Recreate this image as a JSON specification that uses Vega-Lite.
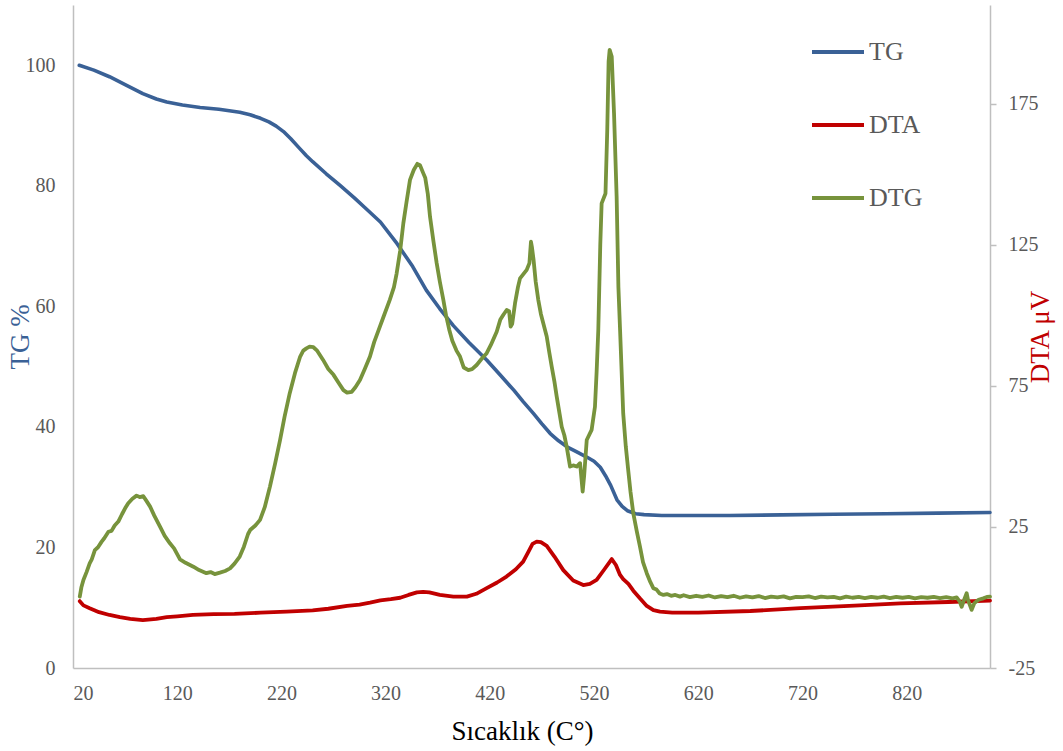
{
  "$schema": "https://vega.github.io/schema/vega-lite/v6.json",
  "width": 917,
  "height": 663,
  "autosize": {"type": "none"},
  "padding": {"left": 73, "top": 5, "right": 73, "bottom": 83},
  "background": "white",
  "config": {
    "view": {"stroke": null},
    "font": "Liberation Serif",
    "axis": {
      "grid": false,
      "domainColor": "#BFBFBF",
      "domainWidth": 1.5,
      "tickColor": "#BFBFBF",
      "tickWidth": 1.5,
      "labelFont": "Liberation Serif",
      "labelFontSize": 20,
      "labelColor": "#595959",
      "titleFont": "Liberation Serif",
      "titleFontWeight": "normal"
    }
  },
  "datasets": {
    "all": [
      {"T": 26, "series": "TG", "value": 100.0},
      {"T": 40, "series": "TG", "value": 99.2},
      {"T": 55, "series": "TG", "value": 98.1},
      {"T": 70, "series": "TG", "value": 96.8},
      {"T": 87, "series": "TG", "value": 95.3},
      {"T": 100, "series": "TG", "value": 94.4},
      {"T": 110, "series": "TG", "value": 93.9},
      {"T": 125, "series": "TG", "value": 93.4},
      {"T": 142, "series": "TG", "value": 93.0},
      {"T": 160, "series": "TG", "value": 92.7},
      {"T": 180, "series": "TG", "value": 92.2},
      {"T": 190, "series": "TG", "value": 91.8},
      {"T": 200, "series": "TG", "value": 91.2},
      {"T": 208, "series": "TG", "value": 90.6},
      {"T": 215, "series": "TG", "value": 89.9},
      {"T": 222, "series": "TG", "value": 89.0},
      {"T": 229, "series": "TG", "value": 87.8},
      {"T": 237, "series": "TG", "value": 86.3},
      {"T": 244, "series": "TG", "value": 85.0},
      {"T": 250, "series": "TG", "value": 84.0},
      {"T": 263, "series": "TG", "value": 82.0},
      {"T": 276, "series": "TG", "value": 80.1},
      {"T": 290, "series": "TG", "value": 78.0},
      {"T": 300, "series": "TG", "value": 76.4},
      {"T": 315, "series": "TG", "value": 74.0},
      {"T": 331, "series": "TG", "value": 70.4},
      {"T": 346, "series": "TG", "value": 66.6},
      {"T": 359, "series": "TG", "value": 62.7},
      {"T": 372, "series": "TG", "value": 59.6},
      {"T": 385, "series": "TG", "value": 56.8},
      {"T": 400, "series": "TG", "value": 54.0},
      {"T": 417, "series": "TG", "value": 51.1},
      {"T": 430, "series": "TG", "value": 48.6},
      {"T": 443, "series": "TG", "value": 46.1},
      {"T": 452, "series": "TG", "value": 44.2},
      {"T": 462, "series": "TG", "value": 42.2},
      {"T": 470, "series": "TG", "value": 40.5},
      {"T": 478, "series": "TG", "value": 38.9},
      {"T": 486, "series": "TG", "value": 37.7},
      {"T": 494, "series": "TG", "value": 36.7},
      {"T": 503, "series": "TG", "value": 35.9},
      {"T": 513, "series": "TG", "value": 35.0},
      {"T": 520, "series": "TG", "value": 34.3},
      {"T": 526, "series": "TG", "value": 33.3},
      {"T": 531, "series": "TG", "value": 31.9},
      {"T": 536, "series": "TG", "value": 30.3},
      {"T": 542, "series": "TG", "value": 27.9},
      {"T": 547, "series": "TG", "value": 26.8},
      {"T": 552, "series": "TG", "value": 26.1},
      {"T": 560, "series": "TG", "value": 25.6},
      {"T": 568, "series": "TG", "value": 25.45},
      {"T": 585, "series": "TG", "value": 25.3},
      {"T": 600, "series": "TG", "value": 25.3},
      {"T": 650, "series": "TG", "value": 25.3},
      {"T": 700, "series": "TG", "value": 25.4},
      {"T": 750, "series": "TG", "value": 25.5},
      {"T": 800, "series": "TG", "value": 25.6},
      {"T": 850, "series": "TG", "value": 25.7},
      {"T": 900, "series": "TG", "value": 25.8},

      {"T": 26.5, "series": "DTA", "value": -1.3},
      {"T": 30, "series": "DTA", "value": -2.8},
      {"T": 36, "series": "DTA", "value": -3.8},
      {"T": 45, "series": "DTA", "value": -5.2},
      {"T": 55, "series": "DTA", "value": -6.2},
      {"T": 65, "series": "DTA", "value": -7.0},
      {"T": 75, "series": "DTA", "value": -7.6},
      {"T": 87, "series": "DTA", "value": -8.0},
      {"T": 100, "series": "DTA", "value": -7.6},
      {"T": 110, "series": "DTA", "value": -7.0},
      {"T": 120, "series": "DTA", "value": -6.7},
      {"T": 135, "series": "DTA", "value": -6.2},
      {"T": 155, "series": "DTA", "value": -5.9},
      {"T": 175, "series": "DTA", "value": -5.8},
      {"T": 200, "series": "DTA", "value": -5.4},
      {"T": 225, "series": "DTA", "value": -5.0},
      {"T": 250, "series": "DTA", "value": -4.6},
      {"T": 265, "series": "DTA", "value": -4.0},
      {"T": 283, "series": "DTA", "value": -3.0},
      {"T": 295, "series": "DTA", "value": -2.5},
      {"T": 305, "series": "DTA", "value": -1.8},
      {"T": 315, "series": "DTA", "value": -1.0},
      {"T": 325, "series": "DTA", "value": -0.6},
      {"T": 334, "series": "DTA", "value": -0.1},
      {"T": 342, "series": "DTA", "value": 0.9},
      {"T": 350, "series": "DTA", "value": 1.8},
      {"T": 356, "series": "DTA", "value": 2.0},
      {"T": 362, "series": "DTA", "value": 1.8},
      {"T": 372, "series": "DTA", "value": 0.9},
      {"T": 385, "series": "DTA", "value": 0.3},
      {"T": 398, "series": "DTA", "value": 0.3},
      {"T": 407, "series": "DTA", "value": 1.3},
      {"T": 417, "series": "DTA", "value": 3.3},
      {"T": 427, "series": "DTA", "value": 5.3},
      {"T": 436, "series": "DTA", "value": 7.4},
      {"T": 445, "series": "DTA", "value": 10.0},
      {"T": 452, "series": "DTA", "value": 12.7},
      {"T": 457, "series": "DTA", "value": 16.2},
      {"T": 461, "series": "DTA", "value": 19.0},
      {"T": 465, "series": "DTA", "value": 19.8},
      {"T": 469, "series": "DTA", "value": 19.6},
      {"T": 474.6, "series": "DTA", "value": 18.3},
      {"T": 482, "series": "DTA", "value": 14.5},
      {"T": 490.5, "series": "DTA", "value": 9.7},
      {"T": 500, "series": "DTA", "value": 6.0},
      {"T": 509.7, "series": "DTA", "value": 4.4},
      {"T": 516, "series": "DTA", "value": 4.8},
      {"T": 522.5, "series": "DTA", "value": 6.2},
      {"T": 530, "series": "DTA", "value": 10.0},
      {"T": 537, "series": "DTA", "value": 13.6},
      {"T": 541, "series": "DTA", "value": 11.5},
      {"T": 545, "series": "DTA", "value": 8.0},
      {"T": 548, "series": "DTA", "value": 6.5},
      {"T": 553, "series": "DTA", "value": 4.8},
      {"T": 557.7, "series": "DTA", "value": 2.4},
      {"T": 564, "series": "DTA", "value": -0.3},
      {"T": 570.6, "series": "DTA", "value": -3.0},
      {"T": 577, "series": "DTA", "value": -4.5},
      {"T": 583.3, "series": "DTA", "value": -5.0},
      {"T": 595, "series": "DTA", "value": -5.4},
      {"T": 620, "series": "DTA", "value": -5.4},
      {"T": 670, "series": "DTA", "value": -4.8},
      {"T": 718, "series": "DTA", "value": -3.8},
      {"T": 770, "series": "DTA", "value": -2.9},
      {"T": 814, "series": "DTA", "value": -2.1},
      {"T": 860, "series": "DTA", "value": -1.6},
      {"T": 900, "series": "DTA", "value": -1.1},

      {"T": 26.5, "series": "DTG", "value": 0.3},
      {"T": 28, "series": "DTG", "value": 3.5},
      {"T": 30, "series": "DTG", "value": 6.2},
      {"T": 33, "series": "DTG", "value": 9.0},
      {"T": 36, "series": "DTG", "value": 12.1},
      {"T": 38, "series": "DTG", "value": 13.5},
      {"T": 41, "series": "DTG", "value": 16.8},
      {"T": 44, "series": "DTG", "value": 17.8},
      {"T": 47.5, "series": "DTG", "value": 19.8},
      {"T": 50, "series": "DTG", "value": 21.0},
      {"T": 54, "series": "DTG", "value": 23.3},
      {"T": 57, "series": "DTG", "value": 23.6},
      {"T": 60, "series": "DTG", "value": 25.5},
      {"T": 63.5, "series": "DTG", "value": 26.9},
      {"T": 67, "series": "DTG", "value": 29.5},
      {"T": 70, "series": "DTG", "value": 31.6},
      {"T": 73, "series": "DTG", "value": 33.4},
      {"T": 77, "series": "DTG", "value": 35.0},
      {"T": 81, "series": "DTG", "value": 36.1},
      {"T": 84, "series": "DTG", "value": 35.6},
      {"T": 87.5, "series": "DTG", "value": 35.9},
      {"T": 90, "series": "DTG", "value": 34.5},
      {"T": 94, "series": "DTG", "value": 32.2},
      {"T": 98, "series": "DTG", "value": 29.0},
      {"T": 103.5, "series": "DTG", "value": 25.1},
      {"T": 108, "series": "DTG", "value": 21.8},
      {"T": 113, "series": "DTG", "value": 19.2},
      {"T": 117, "series": "DTG", "value": 17.4},
      {"T": 122.7, "series": "DTG", "value": 13.5},
      {"T": 128, "series": "DTG", "value": 12.3},
      {"T": 135.5, "series": "DTG", "value": 10.9},
      {"T": 141, "series": "DTG", "value": 9.7},
      {"T": 148, "series": "DTG", "value": 8.6},
      {"T": 152, "series": "DTG", "value": 9.0},
      {"T": 156, "series": "DTG", "value": 8.3},
      {"T": 161, "series": "DTG", "value": 8.8},
      {"T": 166, "series": "DTG", "value": 9.4},
      {"T": 170.7, "series": "DTG", "value": 10.3},
      {"T": 175, "series": "DTG", "value": 12.0},
      {"T": 180, "series": "DTG", "value": 14.5},
      {"T": 184, "series": "DTG", "value": 18.0},
      {"T": 188, "series": "DTG", "value": 22.5},
      {"T": 190, "series": "DTG", "value": 23.9},
      {"T": 195, "series": "DTG", "value": 25.5},
      {"T": 199.5, "series": "DTG", "value": 27.5},
      {"T": 204, "series": "DTG", "value": 32.0},
      {"T": 209, "series": "DTG", "value": 39.3},
      {"T": 214, "series": "DTG", "value": 47.5},
      {"T": 218.7, "series": "DTG", "value": 55.8},
      {"T": 223, "series": "DTG", "value": 64.0},
      {"T": 228, "series": "DTG", "value": 72.4},
      {"T": 233, "series": "DTG", "value": 79.5},
      {"T": 238, "series": "DTG", "value": 85.4},
      {"T": 241, "series": "DTG", "value": 87.5},
      {"T": 244, "series": "DTG", "value": 88.3},
      {"T": 247, "series": "DTG", "value": 88.9},
      {"T": 250.7, "series": "DTG", "value": 88.7},
      {"T": 254, "series": "DTG", "value": 87.6},
      {"T": 260, "series": "DTG", "value": 84.2},
      {"T": 265, "series": "DTG", "value": 81.0},
      {"T": 270, "series": "DTG", "value": 78.9},
      {"T": 275, "series": "DTG", "value": 76.0},
      {"T": 279.5, "series": "DTG", "value": 73.5},
      {"T": 283, "series": "DTG", "value": 72.6},
      {"T": 287.5, "series": "DTG", "value": 72.9},
      {"T": 291, "series": "DTG", "value": 74.5},
      {"T": 295.4, "series": "DTG", "value": 77.1},
      {"T": 300, "series": "DTG", "value": 81.0},
      {"T": 305, "series": "DTG", "value": 85.4},
      {"T": 309, "series": "DTG", "value": 90.5},
      {"T": 313, "series": "DTG", "value": 94.5},
      {"T": 318, "series": "DTG", "value": 99.5},
      {"T": 324, "series": "DTG", "value": 105.5},
      {"T": 328, "series": "DTG", "value": 110.0},
      {"T": 330.6, "series": "DTG", "value": 114.9},
      {"T": 334, "series": "DTG", "value": 123.0},
      {"T": 337, "series": "DTG", "value": 132.6},
      {"T": 340, "series": "DTG", "value": 140.0},
      {"T": 343.4, "series": "DTG", "value": 148.0},
      {"T": 347, "series": "DTG", "value": 151.5},
      {"T": 350.4, "series": "DTG", "value": 153.7},
      {"T": 353, "series": "DTG", "value": 153.2},
      {"T": 356, "series": "DTG", "value": 150.5},
      {"T": 358, "series": "DTG", "value": 148.8},
      {"T": 360.5, "series": "DTG", "value": 143.0},
      {"T": 362.6, "series": "DTG", "value": 135.0},
      {"T": 366, "series": "DTG", "value": 126.0},
      {"T": 369, "series": "DTG", "value": 118.5},
      {"T": 372, "series": "DTG", "value": 112.0},
      {"T": 375.4, "series": "DTG", "value": 105.5},
      {"T": 378, "series": "DTG", "value": 100.0},
      {"T": 381, "series": "DTG", "value": 95.0},
      {"T": 384, "series": "DTG", "value": 91.0},
      {"T": 388, "series": "DTG", "value": 87.5},
      {"T": 391.4, "series": "DTG", "value": 85.4},
      {"T": 395, "series": "DTG", "value": 81.5},
      {"T": 399.4, "series": "DTG", "value": 80.6},
      {"T": 403, "series": "DTG", "value": 80.9},
      {"T": 407.4, "series": "DTG", "value": 82.4},
      {"T": 412, "series": "DTG", "value": 84.5},
      {"T": 417, "series": "DTG", "value": 86.6},
      {"T": 421, "series": "DTG", "value": 89.5},
      {"T": 426.6, "series": "DTG", "value": 94.2},
      {"T": 430, "series": "DTG", "value": 98.4},
      {"T": 433, "series": "DTG", "value": 100.2},
      {"T": 436.2, "series": "DTG", "value": 101.9},
      {"T": 438.5, "series": "DTG", "value": 101.5},
      {"T": 440, "series": "DTG", "value": 96.0},
      {"T": 441.5, "series": "DTG", "value": 97.0},
      {"T": 444.2, "series": "DTG", "value": 104.3},
      {"T": 447, "series": "DTG", "value": 110.0},
      {"T": 449, "series": "DTG", "value": 113.1},
      {"T": 452, "series": "DTG", "value": 114.5},
      {"T": 455.4, "series": "DTG", "value": 116.1},
      {"T": 458, "series": "DTG", "value": 118.5},
      {"T": 459.5, "series": "DTG", "value": 126.1},
      {"T": 460.5, "series": "DTG", "value": 124.0},
      {"T": 462, "series": "DTG", "value": 119.6},
      {"T": 464, "series": "DTG", "value": 112.0},
      {"T": 466.5, "series": "DTG", "value": 105.5},
      {"T": 469, "series": "DTG", "value": 100.5},
      {"T": 471.3, "series": "DTG", "value": 97.2},
      {"T": 474.6, "series": "DTG", "value": 92.5},
      {"T": 477, "series": "DTG", "value": 87.0},
      {"T": 479.4, "series": "DTG", "value": 81.8},
      {"T": 482, "series": "DTG", "value": 76.5},
      {"T": 484.2, "series": "DTG", "value": 71.2},
      {"T": 487, "series": "DTG", "value": 65.0},
      {"T": 489, "series": "DTG", "value": 60.5},
      {"T": 491.5, "series": "DTG", "value": 57.5},
      {"T": 493.8, "series": "DTG", "value": 53.4},
      {"T": 497, "series": "DTG", "value": 46.4},
      {"T": 500, "series": "DTG", "value": 46.8},
      {"T": 503.4, "series": "DTG", "value": 46.4},
      {"T": 506.6, "series": "DTG", "value": 47.6},
      {"T": 508, "series": "DTG", "value": 42.0},
      {"T": 509.1, "series": "DTG", "value": 37.5},
      {"T": 510.5, "series": "DTG", "value": 43.0},
      {"T": 513, "series": "DTG", "value": 55.8},
      {"T": 517.7, "series": "DTG", "value": 59.4},
      {"T": 520.9, "series": "DTG", "value": 67.6},
      {"T": 522.5, "series": "DTG", "value": 80.0},
      {"T": 524.1, "series": "DTG", "value": 94.8},
      {"T": 526, "series": "DTG", "value": 125.0},
      {"T": 527.3, "series": "DTG", "value": 139.7},
      {"T": 531, "series": "DTG", "value": 143.2},
      {"T": 532.7, "series": "DTG", "value": 165.7},
      {"T": 534, "series": "DTG", "value": 190.0},
      {"T": 535, "series": "DTG", "value": 194.1},
      {"T": 537, "series": "DTG", "value": 191.7},
      {"T": 539.2, "series": "DTG", "value": 171.6},
      {"T": 541.7, "series": "DTG", "value": 142.1},
      {"T": 543.4, "series": "DTG", "value": 110.0},
      {"T": 545, "series": "DTG", "value": 94.8},
      {"T": 548, "series": "DTG", "value": 65.3},
      {"T": 550.5, "series": "DTG", "value": 53.5},
      {"T": 552.8, "series": "DTG", "value": 45.2},
      {"T": 555, "series": "DTG", "value": 37.5},
      {"T": 557.7, "series": "DTG", "value": 29.8},
      {"T": 561, "series": "DTG", "value": 23.5},
      {"T": 564.1, "series": "DTG", "value": 18.0},
      {"T": 567, "series": "DTG", "value": 12.5},
      {"T": 570.6, "series": "DTG", "value": 8.6},
      {"T": 574, "series": "DTG", "value": 5.5},
      {"T": 576.9, "series": "DTG", "value": 3.3},
      {"T": 580, "series": "DTG", "value": 2.8},
      {"T": 583, "series": "DTG", "value": 1.4},
      {"T": 586.6, "series": "DTG", "value": 0.9},
      {"T": 590, "series": "DTG", "value": 1.2},
      {"T": 594, "series": "DTG", "value": 0.6},
      {"T": 598, "series": "DTG", "value": 0.9},
      {"T": 602.5, "series": "DTG", "value": 0.3},
      {"T": 606, "series": "DTG", "value": 0.8},
      {"T": 612, "series": "DTG", "value": 0.1},
      {"T": 618, "series": "DTG", "value": 0.6},
      {"T": 624, "series": "DTG", "value": 0.2},
      {"T": 630, "series": "DTG", "value": 0.7},
      {"T": 636, "series": "DTG", "value": 0.0},
      {"T": 642, "series": "DTG", "value": 0.5},
      {"T": 648, "series": "DTG", "value": 0.1},
      {"T": 654, "series": "DTG", "value": 0.6},
      {"T": 660, "series": "DTG", "value": -0.1},
      {"T": 666, "series": "DTG", "value": 0.4},
      {"T": 672, "series": "DTG", "value": 0.0},
      {"T": 678, "series": "DTG", "value": 0.5},
      {"T": 684, "series": "DTG", "value": -0.2},
      {"T": 690, "series": "DTG", "value": 0.3},
      {"T": 696, "series": "DTG", "value": 0.0},
      {"T": 702, "series": "DTG", "value": 0.4},
      {"T": 708, "series": "DTG", "value": -0.3},
      {"T": 714, "series": "DTG", "value": 0.2},
      {"T": 720, "series": "DTG", "value": 0.1},
      {"T": 726, "series": "DTG", "value": 0.4},
      {"T": 732, "series": "DTG", "value": -0.2},
      {"T": 738, "series": "DTG", "value": 0.3},
      {"T": 744, "series": "DTG", "value": 0.0},
      {"T": 750, "series": "DTG", "value": 0.2},
      {"T": 756, "series": "DTG", "value": -0.3},
      {"T": 762, "series": "DTG", "value": 0.3},
      {"T": 768, "series": "DTG", "value": -0.1},
      {"T": 774, "series": "DTG", "value": 0.2},
      {"T": 780, "series": "DTG", "value": -0.2},
      {"T": 786, "series": "DTG", "value": 0.2},
      {"T": 792, "series": "DTG", "value": -0.1},
      {"T": 798, "series": "DTG", "value": 0.3},
      {"T": 804, "series": "DTG", "value": -0.2},
      {"T": 810, "series": "DTG", "value": 0.2},
      {"T": 816, "series": "DTG", "value": -0.1},
      {"T": 822, "series": "DTG", "value": 0.2},
      {"T": 828, "series": "DTG", "value": -0.3},
      {"T": 834, "series": "DTG", "value": 0.1},
      {"T": 840, "series": "DTG", "value": -0.1},
      {"T": 846, "series": "DTG", "value": 0.2},
      {"T": 852, "series": "DTG", "value": -0.2},
      {"T": 858, "series": "DTG", "value": 0.1},
      {"T": 864, "series": "DTG", "value": -0.3},
      {"T": 868, "series": "DTG", "value": 0.0},
      {"T": 871, "series": "DTG", "value": -1.5},
      {"T": 872.8, "series": "DTG", "value": -3.3},
      {"T": 875, "series": "DTG", "value": -1.0},
      {"T": 877.6, "series": "DTG", "value": 1.5},
      {"T": 879, "series": "DTG", "value": -1.0},
      {"T": 882.4, "series": "DTG", "value": -4.4},
      {"T": 885, "series": "DTG", "value": -2.0},
      {"T": 889, "series": "DTG", "value": -0.8},
      {"T": 893.6, "series": "DTG", "value": -0.3},
      {"T": 897, "series": "DTG", "value": 0.2},
      {"T": 900, "series": "DTG", "value": 0.3}
    ]
  },
  "data": {"name": "all"},
  "encoding": {
    "x": {
      "field": "T",
      "type": "quantitative",
      "scale": {"domain": [20, 900], "nice": false, "zero": false},
      "axis": {
        "values": [20, 120, 220, 320, 420, 520, 620, 720, 820],
        "ticks": false,
        "tickSize": 0,
        "labelPadding": 15,
        "title": "Sıcaklık (C°)",
        "titleFontSize": 27,
        "titleColor": "#000000",
        "titleX": 449,
        "titleY": 71,
        "titleBaseline": "alphabetic",
        "titleAlign": "center"
      }
    },
    "color": {
      "field": "series",
      "type": "nominal",
      "scale": {"domain": ["TG", "DTA", "DTG"], "range": ["#3A6196", "#C00000", "#77933C"]},
      "legend": {
        "title": null,
        "orient": "none",
        "legendX": 737,
        "legendY": 19,
        "direction": "vertical",
        "symbolType": "stroke",
        "symbolStrokeWidth": 4,
        "symbolSize": 2704,
        "labelFont": "Liberation Serif",
        "labelFontSize": 26,
        "labelColor": "#595959",
        "labelOffset": 3,
        "rowPadding": 32
      }
    }
  },
  "layer": [
    {
      "transform": [{"filter": "datum.series === 'TG'"}],
      "mark": {"type": "line", "strokeWidth": 3.6, "strokeCap": "round", "strokeJoin": "round"},
      "encoding": {
        "y": {
          "field": "value",
          "type": "quantitative",
          "scale": {"domain": [0, 110], "nice": false, "zero": false},
          "axis": {
            "orient": "left",
            "values": [0, 20, 40, 60, 80, 100],
            "ticks": false,
            "tickSize": 0,
            "labelPadding": 18,
            "title": "TG  %",
            "titleFontSize": 27,
            "titleColor": "#3A6196",
            "titleAngle": -90,
            "titleX": -53,
            "titleY": 331.5,
            "titleBaseline": "middle",
            "titleAlign": "center"
          }
        }
      }
    },
    {
      "transform": [{"filter": "datum.series !== 'TG'"}],
      "mark": {"type": "line", "strokeWidth": 3.8, "strokeCap": "round", "strokeJoin": "round"},
      "encoding": {
        "y": {
          "field": "value",
          "type": "quantitative",
          "scale": {"domain": [-25, 210], "nice": false, "zero": false},
          "axis": {
            "orient": "right",
            "values": [-25, 25, 75, 125, 175],
            "labelExpr": "'' + datum.value",
            "ticks": true,
            "tickSize": 6,
            "labelPadding": 12,
            "title": "DTA μV",
            "titleFontSize": 27,
            "titleColor": "#C00000",
            "titleAngle": -90,
            "titleX": 50,
            "titleY": 331.5,
            "titleBaseline": "middle",
            "titleAlign": "center"
          }
        }
      }
    }
  ],
  "resolve": {"scale": {"y": "independent"}}
}
